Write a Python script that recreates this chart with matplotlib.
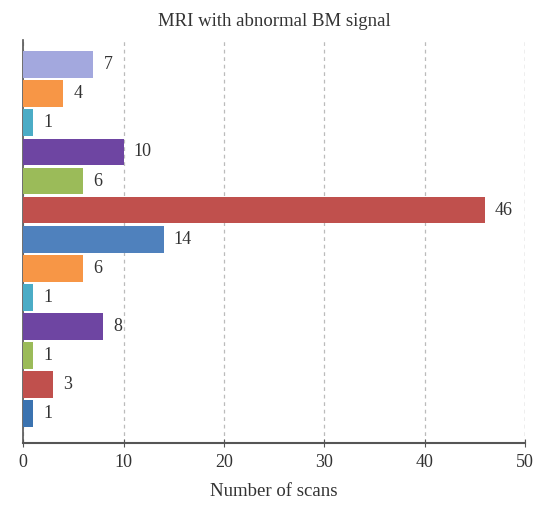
import matplotlib
matplotlib.use("Agg")
import matplotlib.pyplot as plt

# Scan counts per category, listed top to bottom
counts = [7, 4, 1, 10, 6, 46, 14, 6, 1, 8, 1, 3, 1]
colors = ["#A3A8DE", "#F79646", "#4BACC6", "#6E45A2", "#9BBB59", "#C0504D",
          "#4F81BD", "#F79646", "#4BACC6", "#6E45A2", "#9BBB59", "#C0504D",
          "#3B73B0"]
xticks = [0, 10, 20, 30, 40, 50]
title = "MRI with abnormal BM signal"
xlabel = "Number of scans"

plt.rcParams["font.family"] = ["Liberation Serif", "DejaVu Serif"]

fig = plt.figure(figsize=(5.38, 5.05), dpi=100)
ax = fig.add_axes([0.043, 0.123, 0.933, 0.798])

n = len(counts)
ypos = list(range(n - 1, -1, -1))
ax.barh(ypos, counts, height=0.92, color=colors, zorder=3)

for y, v in zip(ypos, counts):
    ax.text(v + 1.0, y, str(v), va="center", ha="left", fontsize=13,
            color="#333333", zorder=4)

ax.set_xlim(0, 50)
ax.set_ylim(-1.0, n - 0.5 + 0.35)
ax.set_xticks(xticks)
ax.set_xticklabels([str(t) for t in xticks], fontsize=13, color="#333333")
ax.set_yticks([])
ax.xaxis.grid(True, linestyle=(0, (3, 3)), color="#BBBBBB", linewidth=0.9,
              zorder=0)
ax.axvline(50, linestyle=(0, (3, 3)), color="#BBBBBB", linewidth=0.9, zorder=0)

for side in ("top", "right"):
    ax.spines[side].set_visible(False)
ax.spines["bottom"].set_color("#555555")
ax.spines["bottom"].set_linewidth(1.5)
ax.spines["left"].set_color("#555555")
ax.spines["left"].set_linewidth(1.2)
ax.tick_params(axis="x", direction="inout", length=6, color="#555555", pad=5)

ax.set_title(title, fontsize=13.5, color="#333333", pad=10)
ax.set_xlabel(xlabel, fontsize=13.5, color="#333333", labelpad=9)

fig.savefig("out.png", dpi=100, facecolor="white")
